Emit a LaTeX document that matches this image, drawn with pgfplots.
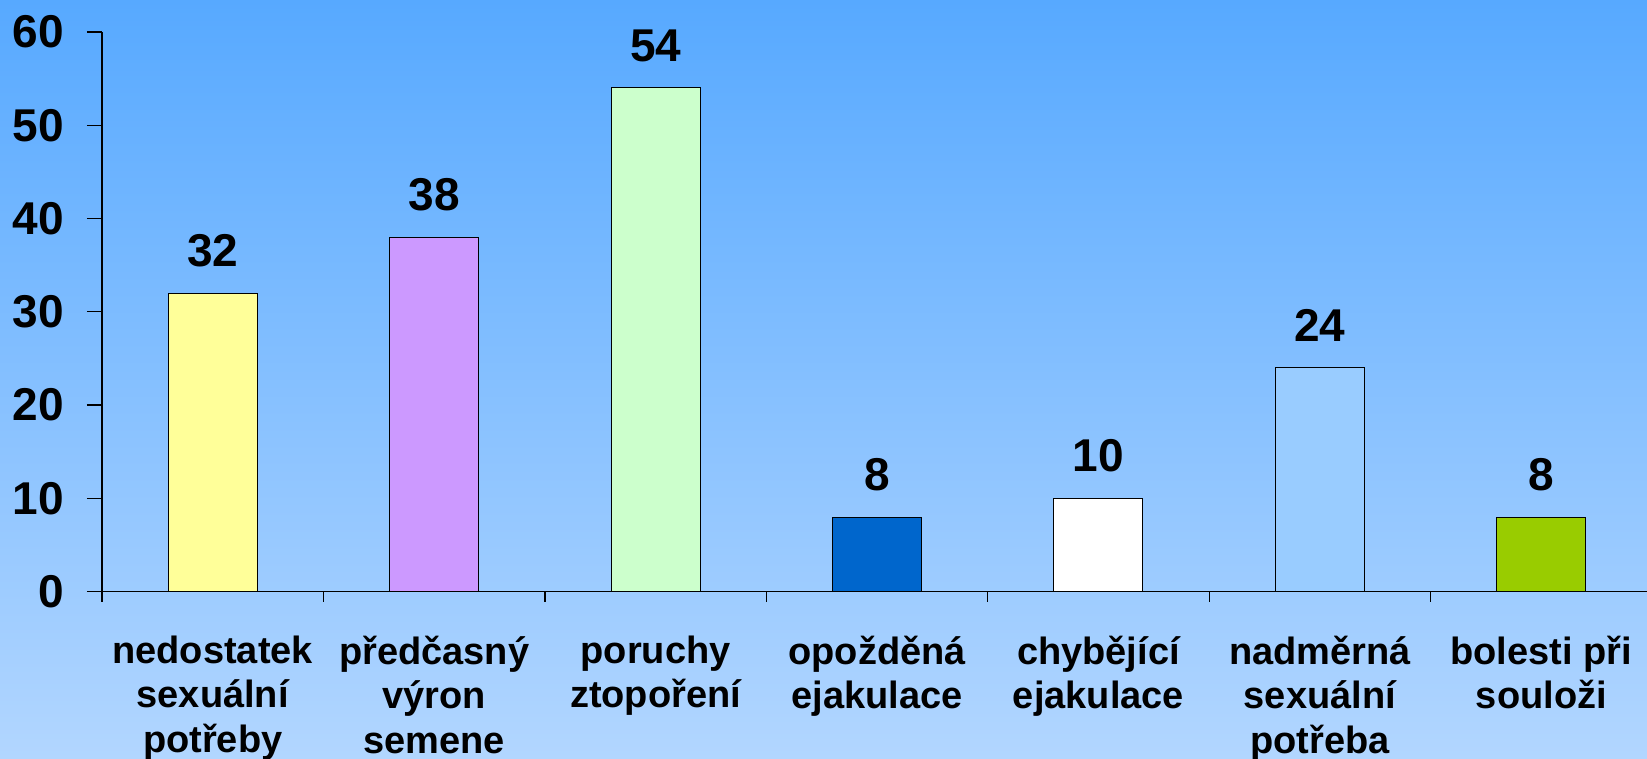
\documentclass[border=0pt]{standalone}
\usepackage{pgfplots}
\pgfplotsset{compat=1.18}
\usepackage{fontspec}
\setmainfont{Liberation Sans}
\definecolor{bgtop}{HTML}{57A9FF}
\definecolor{bgbot}{HTML}{B2D6FF}
\definecolor{c1}{HTML}{FFFF99}
\definecolor{c2}{HTML}{CC99FF}
\definecolor{c3}{HTML}{CCFFCC}
\definecolor{c4}{HTML}{0066CC}
\definecolor{c5}{HTML}{FFFFFF}
\definecolor{c6}{HTML}{99CCFF}
\definecolor{c7}{HTML}{99CC00}
\begin{document}
\begin{tikzpicture}
\shade[top color=bgtop, bottom color=bgbot] (0pt,0pt) rectangle (1647pt,759pt);
\begin{axis}[
  at={(102pt,167.3pt)}, anchor=south west,
  scale only axis, width=1545pt, height=559.7pt,
  xmin=-0.5, xmax=6.477, ymin=0, ymax=60,
  axis x line=bottom, axis y line=left,
  axis line style={-, line width=1.3pt, black},
  tick align=outside,
  every tick/.style={black, line width=1.3pt},
  ybar, bar width=89pt,
  xtick={0,...,6},
  xticklabels={{nedostatek\\sexuální\\potřeby},{předčasný\\výron\\semene},{poruchy\\ztopoření},{opožděná\\ejakulace},{chybějící\\ejakulace},{nadměrná\\sexuální\\potřeba},{bolesti při\\souloži}},
  major x tick style={draw=none},
  minor xtick={-0.5,0.5,...,5.5},
  minor tick length=10pt,
  major tick length=15pt,
  ytick={0,10,...,60},
  /pgf/number format/assume math mode=true,
  xticklabel style={align=center, font=\fontsize{38pt}{44.5pt}\selectfont\bfseries, anchor=north, inner sep=0pt, yshift=-29pt},
  yticklabel style={font=\fontsize{46pt}{52pt}\selectfont\bfseries, anchor=east, inner sep=0pt, xshift=-23pt},
  nodes near coords,
  nodes near coords style={font=\fontsize{46pt}{52pt}\selectfont\bfseries, anchor=south, inner sep=0pt, yshift=26pt},
  clip=false,
]
\addplot[fill=c1, draw=black, line width=1pt, bar shift=0pt] coordinates {(0,32)};
\addplot[fill=c2, draw=black, line width=1pt, bar shift=0pt] coordinates {(1,38)};
\addplot[fill=c3, draw=black, line width=1pt, bar shift=0pt] coordinates {(2,54)};
\addplot[fill=c4, draw=black, line width=1pt, bar shift=0pt] coordinates {(3,8)};
\addplot[fill=c5, draw=black, line width=1pt, bar shift=0pt] coordinates {(4,10)};
\addplot[fill=c6, draw=black, line width=1pt, bar shift=0pt] coordinates {(5,24)};
\addplot[fill=c7, draw=black, line width=1pt, bar shift=0pt] coordinates {(6,8)};
\end{axis}
\pgfresetboundingbox
\path[use as bounding box] (0pt,0pt) rectangle (1647pt,759pt);
\end{tikzpicture}
\end{document}
